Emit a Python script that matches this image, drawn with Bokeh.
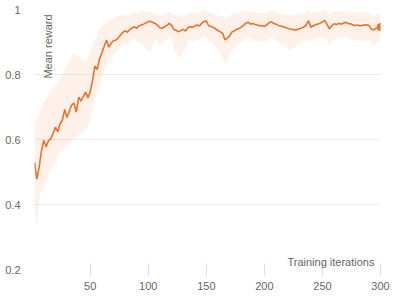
from math import pi
from bokeh.plotting import figure
from bokeh.models import ColumnDataSource, Label, FixedTicker, NumeralTickFormatter, Range1d
from bokeh.embed import file_html
from bokeh.resources import INLINE

# ---------------- data ----------------
iterations = list(range(2, 301, 2))

mean_reward = [
    0.530, 0.478, 0.515, 0.565, 0.598, 0.578, 0.596, 0.602, 0.618, 0.638,
    0.624, 0.648, 0.660, 0.692, 0.668, 0.688, 0.706, 0.712, 0.684, 0.730,
    0.718, 0.732, 0.746, 0.728, 0.748, 0.782, 0.826, 0.815, 0.848, 0.866,
    0.886, 0.906, 0.884, 0.896, 0.904, 0.906, 0.912, 0.921, 0.929, 0.935,
    0.930, 0.938, 0.943, 0.947, 0.942, 0.950, 0.952, 0.955, 0.959, 0.962,
    0.964, 0.960, 0.957, 0.951, 0.944, 0.942, 0.947, 0.951, 0.957, 0.952,
    0.939, 0.936, 0.931, 0.935, 0.939, 0.934, 0.944, 0.947, 0.945, 0.949,
    0.952, 0.949, 0.958, 0.963, 0.965, 0.950, 0.948, 0.945, 0.940, 0.936,
    0.931, 0.927, 0.907, 0.912, 0.918, 0.931, 0.934, 0.939, 0.941, 0.946,
    0.951, 0.958, 0.961, 0.955, 0.957, 0.954, 0.952, 0.950, 0.951, 0.948,
    0.953, 0.959, 0.962, 0.957, 0.955, 0.951, 0.949, 0.947, 0.945, 0.942,
    0.940, 0.939, 0.937, 0.938, 0.941, 0.943, 0.946, 0.952, 0.966, 0.945,
    0.950, 0.953, 0.955, 0.958, 0.962, 0.966, 0.954, 0.940, 0.950, 0.956,
    0.954, 0.957, 0.955, 0.958, 0.961, 0.957, 0.956, 0.953, 0.951, 0.952,
    0.950, 0.951, 0.952, 0.953, 0.951, 0.940, 0.937, 0.942, 0.944, 0.946,
]

reward_low = [
    0.41, 0.33, 0.42, 0.44, 0.45, 0.47, 0.49, 0.51, 0.52, 0.535,
    0.55, 0.56, 0.565, 0.575, 0.58, 0.59, 0.60, 0.605, 0.61, 0.615,
    0.62, 0.625, 0.63, 0.64, 0.66, 0.69, 0.72, 0.745, 0.77, 0.79,
    0.81, 0.83, 0.84, 0.85, 0.86, 0.87, 0.875, 0.88, 0.89, 0.895,
    0.89, 0.90, 0.905, 0.91, 0.905, 0.90, 0.895, 0.89, 0.88, 0.87,
    0.875, 0.89, 0.91, 0.90, 0.89, 0.895, 0.905, 0.91, 0.915, 0.905,
    0.88, 0.865, 0.85, 0.855, 0.875, 0.88, 0.90, 0.905, 0.90, 0.905,
    0.91, 0.905, 0.915, 0.92, 0.915, 0.905, 0.90, 0.895, 0.885, 0.875,
    0.865, 0.85, 0.835, 0.845, 0.86, 0.875, 0.885, 0.89, 0.895, 0.90,
    0.905, 0.91, 0.915, 0.91, 0.91, 0.905, 0.905, 0.90, 0.905, 0.90,
    0.905, 0.91, 0.915, 0.91, 0.905, 0.90, 0.895, 0.89, 0.885, 0.88,
    0.875, 0.88, 0.885, 0.89, 0.895, 0.90, 0.905, 0.905, 0.91, 0.90,
    0.905, 0.91, 0.915, 0.915, 0.915, 0.91, 0.905, 0.89, 0.90, 0.91,
    0.91, 0.915, 0.91, 0.915, 0.915, 0.91, 0.91, 0.905, 0.905, 0.905,
    0.905, 0.905, 0.905, 0.90, 0.905, 0.895, 0.89, 0.895, 0.90, 0.90,
]

reward_high = [
    0.67, 0.66, 0.68, 0.70, 0.72, 0.725, 0.74, 0.75, 0.76, 0.77,
    0.775, 0.785, 0.80, 0.82, 0.825, 0.84, 0.855, 0.865, 0.86, 0.855,
    0.85, 0.845, 0.84, 0.85, 0.87, 0.89, 0.91, 0.925, 0.94, 0.95,
    0.955, 0.965, 0.965, 0.97, 0.975, 0.975, 0.98, 0.98, 0.985, 0.985,
    0.98, 0.985, 0.99, 0.992, 0.988, 0.99, 0.995, 0.993, 0.99, 0.995,
    0.993, 0.99, 0.988, 0.985, 0.98, 0.982, 0.985, 0.99, 0.993, 0.99,
    0.985, 0.982, 0.98, 0.983, 0.985, 0.982, 0.988, 0.99, 0.988, 0.99,
    0.993, 0.99, 0.995, 0.998, 1.0, 0.992, 0.99, 0.988, 0.985, 0.982,
    0.98, 0.978, 0.97, 0.975, 0.98, 0.985, 0.988, 0.99, 0.99, 0.992,
    0.995, 0.998, 0.995, 0.992, 0.993, 0.99, 0.99, 0.988, 0.99, 0.988,
    0.992, 0.996, 0.998, 0.994, 0.992, 0.99, 0.988, 0.986, 0.985, 0.983,
    0.98, 0.982, 0.983, 0.985, 0.986, 0.988, 0.99, 0.995, 1.0, 0.99,
    0.99, 0.992, 0.994, 0.995, 0.997, 0.999, 0.992, 0.985, 0.99, 0.993,
    0.992, 0.994, 0.993, 0.995, 0.996, 0.994, 0.993, 0.992, 0.99, 0.99,
    0.99, 0.99, 0.991, 0.992, 0.99, 0.982, 0.98, 0.985, 0.986, 0.988,
]

x_ticks = [50, 100, 150, 200, 250, 300]
y_ticks = [0.2, 0.4, 0.6, 0.8, 1.0]
y_title = "Mean reward"
x_title = "Training iterations"

# ---------------- style ----------------
ORANGE = "#e8712b"
TEXT = "#666666"
FONT = "Liberation Sans"

src = ColumnDataSource(dict(x=iterations, y=mean_reward, lo=reward_low, hi=reward_high))

p = figure(
    width=400, height=300,
    output_backend="svg", toolbar_location=None,
    x_range=Range1d(iterations[0], iterations[-1]),
    y_range=Range1d(y_ticks[0], y_ticks[-1]),
    min_border_left=34, min_border_right=20, min_border_top=9, min_border_bottom=31,
)
p.outline_line_color = None
p.background_fill_color = "white"
p.border_fill_color = "white"

p.varea(x="x", y1="lo", y2="hi", source=src, fill_color=ORANGE, fill_alpha=0.1)
p.line(x="x", y="y", source=src, line_color=ORANGE, line_width=1.6)
p.scatter(x=[iterations[-1]], y=[mean_reward[-1]], size=7, color=ORANGE)

# axes
p.xaxis.ticker = FixedTicker(ticks=x_ticks)
p.yaxis.ticker = FixedTicker(ticks=y_ticks)
p.yaxis.formatter = NumeralTickFormatter(format="0.[0]")
for ax in (p.xaxis[0], p.yaxis[0]):
    ax.axis_line_color = None
    ax.minor_tick_line_color = None
    ax.major_label_text_font = FONT
    ax.major_label_text_font_size = "11px"
    ax.major_label_text_color = TEXT
p.xaxis.major_tick_line_color = "#dddddd"
p.xaxis.major_tick_in = 6
p.xaxis.major_tick_out = 6
p.xaxis.major_label_standoff = 6
p.yaxis.major_tick_line_color = None
p.yaxis.major_tick_in = 0
p.yaxis.major_tick_out = 0
p.yaxis.major_label_standoff = 14

p.xgrid.visible = False
p.ygrid.ticker = FixedTicker(ticks=y_ticks)
p.ygrid.grid_line_color = "#ebebeb"
p.ygrid.grid_line_width = 1

# in-plot axis titles
p.add_layout(Label(x=13.2, y=0.985, text=y_title, angle=pi / 2,
                   text_align="right", text_baseline="alphabetic",
                   text_font=FONT, text_font_size="11px", text_color=TEXT))
p.add_layout(Label(x=294.8, y=0.223, text=x_title,
                   text_align="right", text_baseline="alphabetic",
                   text_font=FONT, text_font_size="11px", text_color=TEXT))

open("out.html", "w").write(file_html(p, INLINE))
